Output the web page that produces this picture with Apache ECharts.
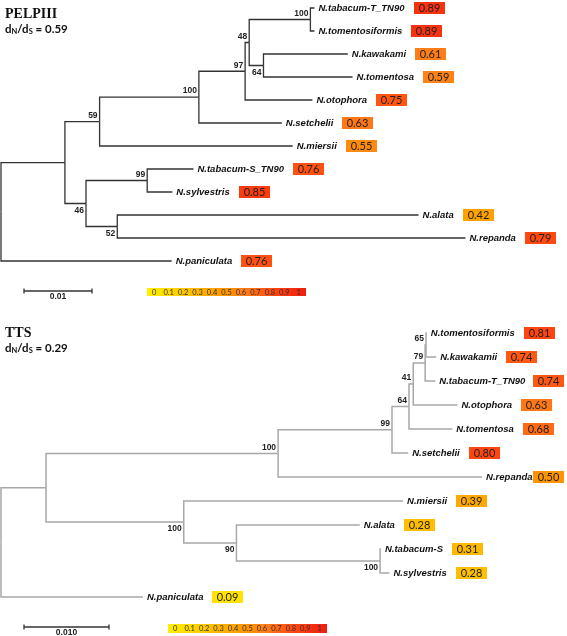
<!DOCTYPE html>
<html><head><meta charset="utf-8">
<script src="https://cdn.jsdelivr.net/npm/echarts@6/dist/echarts.min.js"></script>
<style>html,body{margin:0;padding:0;background:#fff}#c{width:567px;height:636px}</style>
</head><body><div id="c"></div>
<script>
// ---------- PELPIII tree ----------
const pelpIds = ['root','n1','n59','n100a','n97','n48','n100b','N.tabacum-T_TN90','N.tomentosiformis','n64','N.kawakami','N.tomentosa','N.otophora','N.setchelii','N.miersii','n46','n99','N.tabacum-S_TN90','N.sylvestris','n52','N.alata','N.repanda','N.paniculata'];
const pelpParents = [null,'root','n1','n59','n100a','n97','n48','n100b','n100b','n48','n64','n64','n97','n100a','n59','n1','n46','n99','n99','n46','n52','n52','root'];
const pelpBranch = [0,0.0094,0.0051,0.0146,0.0068,0.0006,0.0090,0.0006,0.0006,0.0021,0.0124,0.0131,0.0099,0.0122,0.0284,0.0031,0.0090,0.0068,0.0037,0.0046,0.0443,0.0512,0.0251];
const pelpSupport = [null,null,59,100,97,48,100,null,null,64,null,null,null,null,null,46,99,null,null,52,null,null,null];
const pelpLeaves = ['N.tabacum-T_TN90','N.tomentosiformis','N.kawakami','N.tomentosa','N.otophora','N.setchelii','N.miersii','N.tabacum-S_TN90','N.sylvestris','N.alata','N.repanda','N.paniculata'];
const pelpDnds = [0.89,0.89,0.61,0.59,0.75,0.63,0.55,0.76,0.85,0.42,0.79,0.76];
const pelpTitle = 'PELPIII';
const pelpRatio = '0.59';
const pelpScaleLen = 0.01;
const pelpScaleLabel = '0.01';

// ---------- TTS tree ----------
const ttsIds = ['root','m1','m100a','m99','m64','m41','m79','m65','N.tomentosiformis','N.kawakamii','N.tabacum-T_TN90','N.otophora','N.tomentosa','N.setchelii','N.repanda','m100b','N.miersii','m90','N.alata','m100c','N.tabacum-S','N.sylvestris','N.paniculata'];
const ttsParents = [null,'root','m1','m100a','m99','m64','m41','m79','m65','m65','m79','m41','m64','m99','m100a','m1','m100b','m100b','m90','m90','m100c','m100c','root'];
const ttsBranch = [0,0.0053,0.0273,0.0134,0.0020,0.0005,0.0014,0.0001,0.0001,0.0012,0.0012,0.0052,0.0051,0.0019,0.0240,0.0162,0.0258,0.0062,0.0145,0.0169,0.0001,0.0011,0.0167];
const ttsSupport = [null,null,100,99,64,41,79,65,null,null,null,null,null,null,null,100,null,90,null,100,null,null,null];
const ttsLeaves = ['N.tomentosiformis','N.kawakamii','N.tabacum-T_TN90','N.otophora','N.tomentosa','N.setchelii','N.repanda','N.miersii','N.alata','N.tabacum-S','N.sylvestris','N.paniculata'];
const ttsDnds = [0.81,0.74,0.74,0.63,0.68,0.80,0.50,0.39,0.28,0.31,0.28,0.09];
const ttsTitle = 'TTS';
const ttsRatio = '0.29';
const ttsScaleLen = 0.010;
const ttsScaleLabel = '0.010';

// colour scale ticks
const scaleTicks = ['0','0.1','0.2','0.3','0.4','0.5','0.6','0.7','0.8','0.9','1'];

// ---------- helpers ----------
const colorStops = [[0,[255,240,0]],[0.1,[255,224,0]],[0.2,[255,206,0]],[0.3,[255,186,0]],[0.4,[255,166,0]],[0.5,[255,148,0]],[0.6,[255,128,26]],[0.7,[255,100,20]],[0.8,[255,70,16]],[0.9,[246,48,16]],[1,[238,30,16]]];
function colorFor(v){
  for(let i=1;i<colorStops.length;i++){
    if(v<=colorStops[i][0]){
      const a=colorStops[i-1], b=colorStops[i]; const t=(v-a[0])/(b[0]-a[0]);
      const c=a[1].map((x,k)=>Math.round(x+(b[1][k]-x)*t));
      return 'rgb('+c.join(',')+')';
    }
  }
  return 'rgb('+colorStops[colorStops.length-1][1].join(',')+')';
}
const mctx=document.createElement('canvas').getContext('2d');
function textW(t,font){mctx.font=font;return mctx.measureText(t).width;}

function layoutTree(ids,parents,branch,support,leafNames,dnds){
  const idx={}; ids.forEach((id,i)=>idx[id]=i);
  const children={}; ids.forEach(id=>children[id]=[]);
  ids.forEach((id,i)=>{ if(parents[i]!==null) children[parents[i]].push(id); });
  const depth={}, y={}; let leafCount=0;
  function visit(id,d){
    depth[id]=d; const ch=children[id];
    if(!ch.length){ y[id]=leafCount++; return; }
    ch.forEach(c=>visit(c,d+branch[idx[c]]));
    y[id]=(y[ch[0]]+y[ch[ch.length-1]])/2;
  }
  const root=ids[parents.indexOf(null)];
  visit(root,0);
  const edges=[], boot=[], leaves=[];
  ids.forEach((id,i)=>{
    const p=parents[i];
    if(p!==null) edges.push([depth[p],y[p],depth[id],y[id]]);
    if(support[i]!==null){
      const first = children[p][0]===id;
      boot.push({d:depth[id],y:y[id],s:support[i],above:first});
    }
  });
  leafNames.forEach((n,k)=>leaves.push({d:depth[n],y:y[n],name:n,v:dnds[k]}));
  return {edges,boot,leaves,nLeaves:leafCount};
}

const LABEL_FONT='italic bold 9.5px "Liberation Sans"';
const BOOT_FONT='bold 8.5px "Liberation Sans"';
const VAL_FONT='11px Lato';
const CHART_W=567;

function treeSeries(gi,T,lineColor,lineW,scaleLen,scaleLabel,barLeft,barH){
  const s=[];
  s.push({type:'custom',xAxisIndex:gi,yAxisIndex:gi,silent:true,
    data:T.edges,
    renderItem(params,api){
      const p0=api.coord([api.value(0),api.value(1)]);
      const p1=api.coord([api.value(0),api.value(3)]);
      const p2=api.coord([api.value(2),api.value(3)]);
      return {type:'polyline',shape:{points:[p0,p1,p2]},style:{stroke:lineColor,lineWidth:lineW,fill:null}};
    }});
  s.push({type:'custom',xAxisIndex:gi,yAxisIndex:gi,silent:true,
    data:T.boot.map(b=>[b.d,b.y]),
    renderItem(params,api){
      const b=T.boot[params.dataIndex];
      const p=api.coord([b.d,b.y]);
      return {type:'text',x:p[0]-2,y:p[1]+(b.above?-6:7),style:{text:String(b.s),font:BOOT_FONT,fill:'#222',align:'right',verticalAlign:'middle'}};
    }});
  s.push({type:'custom',xAxisIndex:gi,yAxisIndex:gi,silent:true,
    data:T.leaves.map(l=>[l.d,l.y]),
    renderItem(params,api){
      const L=T.leaves[params.dataIndex];
      const p=api.coord([L.d,L.y]);
      const tx=p[0]+4; const w=textW(L.name,LABEL_FONT);
      const bx=Math.min(Math.round(tx+w+9), CHART_W-34);
      return {type:'group',children:[
        {type:'text',x:tx,y:p[1],style:{text:L.name,font:LABEL_FONT,fill:'#111',align:'left',verticalAlign:'middle'}},
        {type:'rect',shape:{x:bx,y:Math.round(p[1]-6),width:31,height:12},style:{fill:colorFor(L.v)}},
        {type:'text',x:bx+15.5,y:p[1]+0.5,style:{text:L.v.toFixed(2),font:VAL_FONT,fill:'#222',align:'center',verticalAlign:'middle'}}
      ]};
    }});
  // scale bar + colour legend
  s.push({type:'custom',xAxisIndex:gi,yAxisIndex:gi,silent:true,
    data:[[0,T.nLeaves-1]],
    renderItem(params,api){
      const p=api.coord([0,T.nLeaves-1]);
      const len=api.size([scaleLen,0])[0];
      const x0=p[0]+23, yb=p[1]+30;
      const ch=[
        {type:'line',shape:{x1:x0,y1:yb,x2:x0+len,y2:yb},style:{stroke:'#333',lineWidth:1.3}},
        {type:'line',shape:{x1:x0,y1:yb-2.5,x2:x0,y2:yb+2.5},style:{stroke:'#333',lineWidth:1.3}},
        {type:'line',shape:{x1:x0+len,y1:yb-2.5,x2:x0+len,y2:yb+2.5},style:{stroke:'#333',lineWidth:1.3}},
        {type:'text',x:x0+len/2,y:yb+6,style:{text:scaleLabel,font:BOOT_FONT,fill:'#222',align:'center',verticalAlign:'middle'}}
      ];
      const bw=159, by=p[1]+27;
      ch.push({type:'rect',shape:{x:barLeft,y:by,width:bw,height:barH},style:{fill:new echarts.graphic.LinearGradient(0,0,1,0,colorStops.map(c=>({offset:c[0],color:'rgb('+c[1].join(',')+')'})))}});
      const cw=bw/scaleTicks.length;
      scaleTicks.forEach((t,k)=>ch.push({type:'text',x:barLeft+cw*(k+0.5),y:by+barH/2+0.5,style:{text:t,font:'7.5px Lato',fill:'#333',align:'center',verticalAlign:'middle'}}));
      return {type:'group',children:ch};
    }});
  return s;
}

const P=layoutTree(pelpIds,pelpParents,pelpBranch,pelpSupport,pelpLeaves,pelpDnds);
const Tt=layoutTree(ttsIds,ttsParents,ttsBranch,ttsSupport,ttsLeaves,ttsDnds);

function titleGraphics(title,ratio,y){
  return [
    {type:'text',x:5,y:y,style:{text:title,font:'bold 14px "Liberation Serif"',fill:'#111',verticalAlign:'middle'}},
    {type:'text',x:5,y:y+15,style:{text:'{a|d}{s|N}{a|/d}{s|S}{a| = '+ratio+'}',verticalAlign:'middle',
      rich:{a:{font:'bold 11.5px Lato',fill:'#111',height:14,lineHeight:14},s:{font:'bold 7.5px Lato',fill:'#111',padding:[5,0,0,0],height:14,lineHeight:14}}}}
  ];
}

const chart=echarts.init(document.getElementById('c'),null,{renderer:'canvas'});
chart.setOption({
  animation:false,
  backgroundColor:'#fff',
  grid:[{left:1,top:8,width:544,height:253},{left:1,top:333,width:544,height:264}],
  xAxis:[{type:'value',gridIndex:0,min:0,max:0.08,show:false},{type:'value',gridIndex:1,min:0,max:0.064,show:false}],
  yAxis:[{type:'value',gridIndex:0,min:0,max:11,inverse:true,show:false},{type:'value',gridIndex:1,min:0,max:11,inverse:true,show:false}],
  graphic:[...titleGraphics(pelpTitle,pelpRatio,14),...titleGraphics(ttsTitle,ttsRatio,333)],
  series:[...treeSeries(0,P,'#333',1.3,pelpScaleLen,pelpScaleLabel,147,8),...treeSeries(1,Tt,'#a8a8a8',1.5,ttsScaleLen,ttsScaleLabel,168,9)]
});
</script></body></html>
